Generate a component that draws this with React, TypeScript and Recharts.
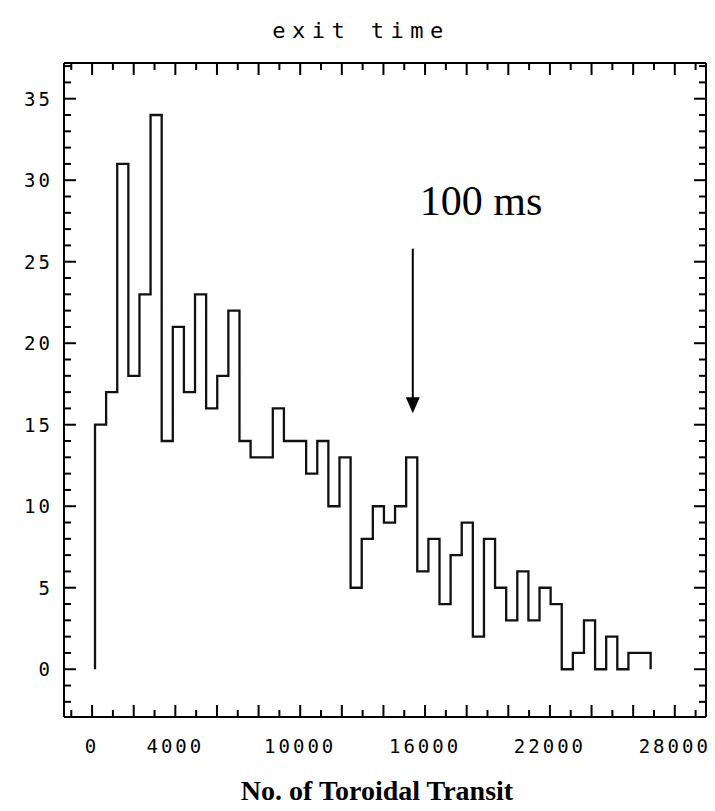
import React from 'react';
import { ComposedChart, Line, XAxis, YAxis, ReferenceLine } from 'recharts';

// histogram of exit times (50 bins)
const binStart = 140;
const binWidth = 534;
const counts = [
  15, 17, 31, 18, 23, 34, 14, 21, 17, 23,
  16, 18, 22, 14, 13, 13, 16, 14, 14, 12,
  14, 10, 13, 5, 8, 10, 9, 10, 13, 6,
  8, 4, 7, 9, 2, 8, 5, 3, 6, 3,
  5, 4, 0, 1, 3, 0, 2, 0, 1, 1,
];

const xLabels = [0, 4000, 10000, 16000, 22000, 28000];
const yLabels = [0, 5, 10, 15, 20, 25, 30, 35];
const xDomain = [-1350, 29500];
const yDomain = [-2.93, 37.19];

const arrowX = 15410;
const arrowTop = 25.8;
const arrowTip = 15.7;

const xTicks = Array.from({ length: 31 }, (_, i) => (i - 1) * 1000);
const yTicks = Array.from({ length: 40 }, (_, i) => i - 2);

const binEnd = binStart + counts.length * binWidth;
const stepData = [
  { x: binStart, n: 0 },
  ...counts.map((n, i) => ({ x: binStart + i * binWidth, n })),
  { x: binEnd, n: counts[counts.length - 1] },
  { x: binEnd, n: 0 },
];

const mono = '"DejaVu Sans Mono", monospace';
const serif = '"Liberation Serif", "Times New Roman", serif';

const XTick = ({ x, y, payload, side }: any) => {
  const v = payload.value;
  const len = v % 2000 === 0 ? 12 : 7;
  const dir = side === 'bottom' ? -1 : 1;
  return (
    <g>
      <line x1={x} y1={y} x2={x} y2={y + dir * len} stroke="#000" strokeWidth={2} />
      {side === 'bottom' && xLabels.includes(v) && (
        <text x={x} y={y + 29} textAnchor="middle" dominantBaseline="central"
          fontFamily={mono} fontSize={19} letterSpacing={3} fill="#000">
          {v}
        </text>
      )}
    </g>
  );
};

const YTick = ({ x, y, payload, side }: any) => {
  const v = payload.value;
  const len = v % 5 === 0 ? 12 : 7;
  const dir = side === 'left' ? 1 : -1;
  return (
    <g>
      <line x1={x} y1={y} x2={x + dir * len} y2={y} stroke="#000" strokeWidth={2} />
      {side === 'left' && yLabels.includes(v) && (
        <text x={x - 11} y={y} textAnchor="end" dominantBaseline="central"
          fontFamily={mono} fontSize={19} letterSpacing={3} fill="#000">
          {v}
        </text>
      )}
    </g>
  );
};

const Arrow = (p: any) => {
  const { x1, y1, x2, y2 } = p;
  const top = Math.min(y1, y2);
  const tip = Math.max(y1, y2);
  return (
    <g>
      <line x1={x1} y1={top} x2={x2} y2={tip - 12} stroke="#000" strokeWidth={2} />
      <polygon points={`${x2 - 7},${tip - 16} ${x2 + 7},${tip - 16} ${x2},${tip}`} fill="#000" />
      <text x={x1 + 7} y={top - 34} fontFamily={serif} fontSize={42} fill="#000">100 ms</text>
    </g>
  );
};

const App = () => {
  return (
    <div style={{ position: 'absolute', left: 0, top: 0, width: 715, height: 811, background: '#fff' }}>
      <ComposedChart width={715} height={811} data={stepData}
        margin={{ top: 62, right: 8, bottom: 93, left: 63 }}>
        <XAxis xAxisId="bottom" dataKey="x" type="number" domain={xDomain} ticks={xTicks}
          interval={0} height={1} tickSize={0} tickMargin={0} tickLine={false}
          axisLine={{ stroke: '#000', strokeWidth: 2 }} allowDataOverflow
          tick={(props: any) => <XTick {...props} side="bottom" />}
          label={{
            content: () => (
              <text x={377} y={800} textAnchor="middle" fontFamily={serif} fontWeight="bold"
                fontSize={28} fill="#000">
                No. of Toroidal Transit
              </text>
            ),
          }}
        />
        <XAxis xAxisId="top" orientation="top" dataKey="x" type="number" domain={xDomain} ticks={xTicks}
          interval={0} height={1} tickSize={0} tickMargin={0} tickLine={false}
          axisLine={{ stroke: '#000', strokeWidth: 2 }} allowDataOverflow
          tick={(props: any) => <XTick {...props} side="top" />}
          label={{
            content: () => (
              <text x={361} y={30} textAnchor="middle" dominantBaseline="central" fontFamily={mono}
                fontSize={22} letterSpacing={6.5} fill="#000">
                exit time
              </text>
            ),
          }}
        />
        <YAxis yAxisId="left" type="number" domain={yDomain} ticks={yTicks} interval={0}
          width={1} tickSize={0} tickMargin={0} tickLine={false} allowDataOverflow
          axisLine={{ stroke: '#000', strokeWidth: 2 }}
          tick={(props: any) => <YTick {...props} side="left" />}
        />
        <YAxis yAxisId="right" orientation="right" type="number" domain={yDomain} ticks={yTicks}
          interval={0} width={1} tickSize={0} tickMargin={0} tickLine={false} allowDataOverflow
          axisLine={{ stroke: '#000', strokeWidth: 2 }}
          tick={(props: any) => <YTick {...props} side="right" />}
        />
        <Line xAxisId="bottom" yAxisId="left" type="stepAfter" dataKey="n" stroke="#111"
          strokeWidth={2.3} dot={false} isAnimationActive={false} />
        <ReferenceLine xAxisId="bottom" yAxisId="left"
          segment={[{ x: arrowX, y: arrowTop }, { x: arrowX, y: arrowTip }]}
          shape={Arrow} />
      </ComposedChart>
    </div>
  );
};

export default App;
